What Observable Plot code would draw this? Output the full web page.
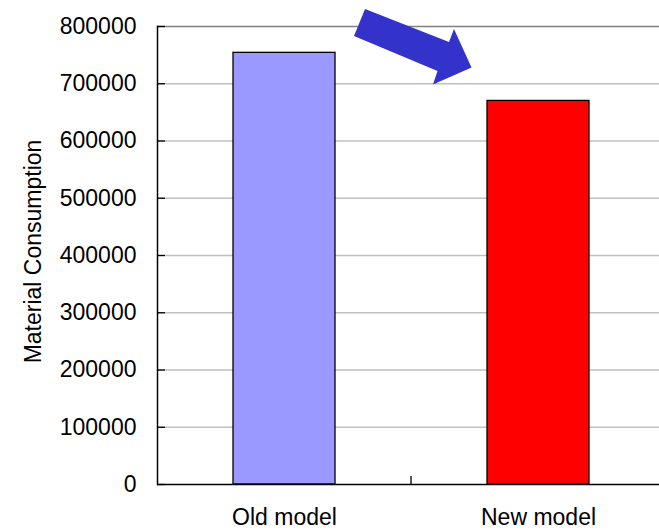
<!DOCTYPE html>
<html>
<head>
<meta charset="utf-8">
<script src="https://cdn.jsdelivr.net/npm/d3@7"></script>
<script src="https://cdn.jsdelivr.net/npm/@observablehq/plot@0.6"></script>
<style>
  body { margin: 0; background: #fff; }
  #chart svg { display: block; }
</style>
</head>
<body>
<div id="chart"></div>
<script>
// Material consumption per model
const categories = ["Old model", "New model"];
const consumption = [754000, 670000];
const barColors = ["#9999ff", "#ff0000"];
const yTicks = [0, 100000, 200000, 300000, 400000, 500000, 600000, 700000, 800000];
const yTitle = "Material Consumption";

const rows = categories.map((c, i) => ({category: c, value: consumption[i], color: barColors[i]}));

// Block arrow pointing from the old model toward the new one (pixel outline)
const arrowOutline = [
  [365, 9], [449, 42], [454, 29], [471.5, 67.5], [433, 84.5], [437.5, 71], [354, 36]
];

function decorations(index, scales, values, dimensions) {
  const g = d3.create("svg:g");
  // divider tick between the two categories on the baseline
  const xDiv = scales.x(categories[1]);
  const y0 = scales.y(0);
  g.append("line")
    .attr("x1", xDiv).attr("x2", xDiv)
    .attr("y1", y0).attr("y2", y0 - 8)
    .attr("stroke", "#000").attr("stroke-width", 1.3);
  g.append("polygon")
    .attr("points", arrowOutline.map(p => p.join(",")).join(" "))
    .attr("fill", "#3333cc");
  return g.node();
}

const chart = Plot.plot({
  width: 659,
  height: 531,
  marginTop: 26,
  marginBottom: 47,
  marginLeft: 157,
  marginRight: 0,
  style: {fontFamily: "'Liberation Sans', Arial, sans-serif", fontSize: "23px", color: "#000", background: "#fff", overflow: "visible"},
  x: {domain: categories, range: [157, 665], padding: 0, label: null},
  y: {domain: [0, 800000], label: null},
  color: {type: "identity"},
  marks: [
    Plot.gridY(yTicks.slice(1, -1), {stroke: "#c0c0c0", strokeOpacity: 1, strokeWidth: 1.4}),
    Plot.ruleY([yTicks[yTicks.length - 1]], {stroke: "#808080", strokeWidth: 1.6}),
    Plot.barY(rows, {x: "category", y: "value", fill: "color", stroke: "#000", strokeWidth: 1.3, insetLeft: 76, insetRight: 76}),
    Plot.ruleY([0], {stroke: "#000", strokeWidth: 1.5}),
    Plot.frame({anchor: "left", stroke: "#000", strokeWidth: 1.5}),
    Plot.axisY(yTicks, {tickSize: -8, tickPadding: 29, tickFormat: d => String(d), stroke: "#000", strokeWidth: 1.3, fontSize: 23, label: null}),
    Plot.axisX({tickSize: 0, tickPadding: 24, fontSize: 23, label: null}),
    Plot.text([yTitle], {frameAnchor: "left", text: d => d, rotate: -90, textAnchor: "middle", dx: -124, dy: -4, fontSize: 23, fill: "#000"}),
    decorations
  ]
});

document.getElementById("chart").append(chart);
</script>
</body>
</html>
